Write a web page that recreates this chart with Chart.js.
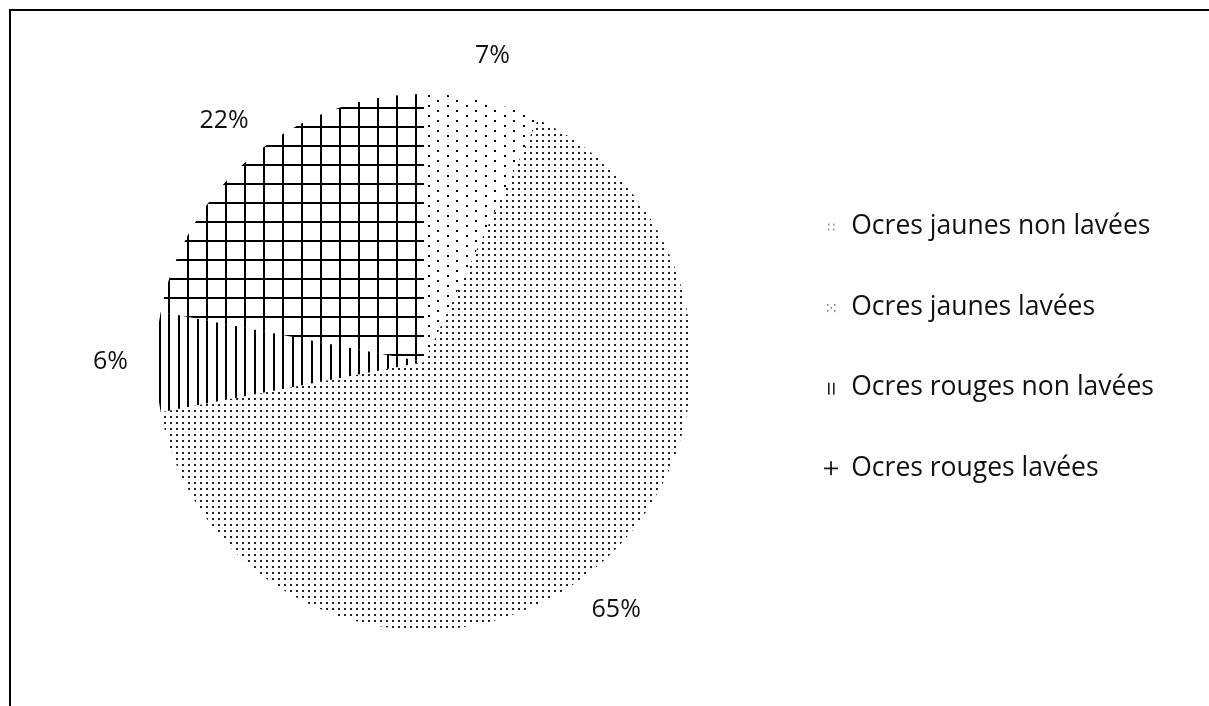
<!DOCTYPE html>
<html lang="fr">
<head>
<meta charset="utf-8">
<title>Ocres</title>
<script src="https://cdn.jsdelivr.net/npm/chart.js@4.4.1/dist/chart.umd.min.js"></script>
<style>
  html, body { margin: 0; padding: 0; background: #fff; overflow: hidden; }
  #frame {
    position: absolute; left: 9px; top: 9px; width: 1300px; height: 800px;
    border-top: 2px solid #000; border-left: 2px solid #000;
  }
  #wrap { position: absolute; left: 0; top: 0; width: 1209px; height: 706px; }
</style>
</head>
<body>
<div id="frame"></div>
<div id="wrap"><canvas id="pie" width="1209" height="706"></canvas></div>
<script>
// ── DATA ──
const categories  = ['Ocres jaunes non lavées', 'Ocres jaunes lavées', 'Ocres rouges non lavées', 'Ocres rouges lavées'];
const shares      = [7, 65, 6, 22];
const shareLabels = ['7%', '65%', '6%', '22%'];

const FONT = '"Open Sans", "DejaVu Sans", sans-serif';
const LEGEND_SIZE = 26.5;
const PCT_SIZE = 25;
const INK = '#111';

// ── PATTERNS ──
function tile(w, h, draw) {
  const c = document.createElement('canvas');
  c.width = w; c.height = h;
  const g = c.getContext('2d');
  g.fillStyle = '#000';
  draw(g);
  return c;
}
function pattern(c) {
  return document.createElement('canvas').getContext('2d').createPattern(c, 'repeat');
}

const fills = [
  // sparse dots
  pattern(tile(19, 10, g => { g.fillRect(0, 0, 2, 2); g.fillRect(10, 5, 2, 2); })),
  // dense dots
  pattern(tile(6, 6, g => { g.fillStyle = '#222'; g.fillRect(2, 2, 2, 2); })),
  // vertical lines
  pattern(tile(19, 4, g => { g.fillRect(7, 0, 2, 4); g.fillRect(16, 0, 2, 4); })),
  // grid
  pattern(tile(19, 19, g => { g.fillRect(16, 0, 2, 19); g.fillRect(0, 12, 19, 2); })),
];

// small legend glyphs
const markers = [
  tile(12, 14, g => { g.fillStyle = '#777'; [[3,4],[3,9],[8,4],[8,9]].forEach(p => g.fillRect(p[0], p[1], 1.5, 1.5)); }),
  tile(14, 14, g => { g.fillStyle = '#666'; [[3,4],[10,4],[6.5,7],[3,10],[10,10]].forEach(p => g.fillRect(p[0], p[1], 1.5, 1.5)); }),
  tile(12, 16, g => { g.fillStyle = '#222'; g.fillRect(3, 3, 1.6, 12); g.fillRect(8, 3, 1.6, 12); }),
  tile(16, 16, g => { g.fillStyle = '#000'; g.fillRect(1, 7.5, 14, 1.6); g.fillRect(7.2, 1, 1.6, 14); }),
];

// ── LAYOUT (legend width measured so the pie keeps its place) ──
const mctx = document.createElement('canvas').getContext('2d');
mctx.font = LEGEND_SIZE + 'px ' + FONT;
const textW = Math.max(...categories.map(t => mctx.measureText(t).width));
const LEG_PAD = 54, BOX_W = 14;
const legendW = LEG_PAD + BOX_W + LEGEND_SIZE / 2 + textW + 10;
const legendLeft = 770;
const padRight = Math.max(0, 1209 - legendLeft - legendW);

// ── OUTSIDE PERCENT LABELS ──
const sliceLabels = {
  id: 'sliceLabels',
  afterDatasetsDraw(chart) {
    const ctx = chart.ctx;
    const meta = chart.getDatasetMeta(0);
    ctx.save();
    ctx.font = PCT_SIZE + 'px ' + FONT;
    ctx.fillStyle = INK;
    ctx.textAlign = 'center';
    ctx.textBaseline = 'middle';
    meta.data.forEach((arc, i) => {
      const p = arc.getProps(['x', 'y', 'startAngle', 'endAngle', 'outerRadius'], true);
      const mid = (p.startAngle + p.endAngle) / 2;
      const r = p.outerRadius * 1.17;
      ctx.fillText(shareLabels[i], p.x + Math.cos(mid) * r, p.y + Math.sin(mid) * r);
    });
    ctx.restore();
  }
};

new Chart(document.getElementById('pie'), {
  type: 'pie',
  data: {
    labels: categories,
    datasets: [{
      data: shares,
      backgroundColor: fills,
      borderWidth: 0,
      hoverOffset: 0,
      offset: 0
    }]
  },
  options: {
    responsive: false,
    animation: false,
    events: [],
    layout: { padding: { left: 78, right: padRight, top: 94, bottom: 76 } },
    plugins: {
      tooltip: { enabled: false },
      legend: {
        position: 'right',
        align: 'start',
        title: { display: true, text: '', font: { size: 12 }, padding: { top: 51, bottom: 0 } },
        labels: {
          usePointStyle: true,
          boxWidth: BOX_W,
          padding: LEG_PAD,
          color: INK,
          font: { family: FONT, size: LEGEND_SIZE },
          generateLabels: chart => categories.map((text, i) => ({
            text,
            fillStyle: fills[i],
            strokeStyle: 'transparent',
            fontColor: INK,
            lineWidth: 0,
            pointStyle: markers[i],
            hidden: false,
            index: i
          }))
        }
      }
    }
  },
  plugins: [sliceLabels]
});
</script>
</body>
</html>
